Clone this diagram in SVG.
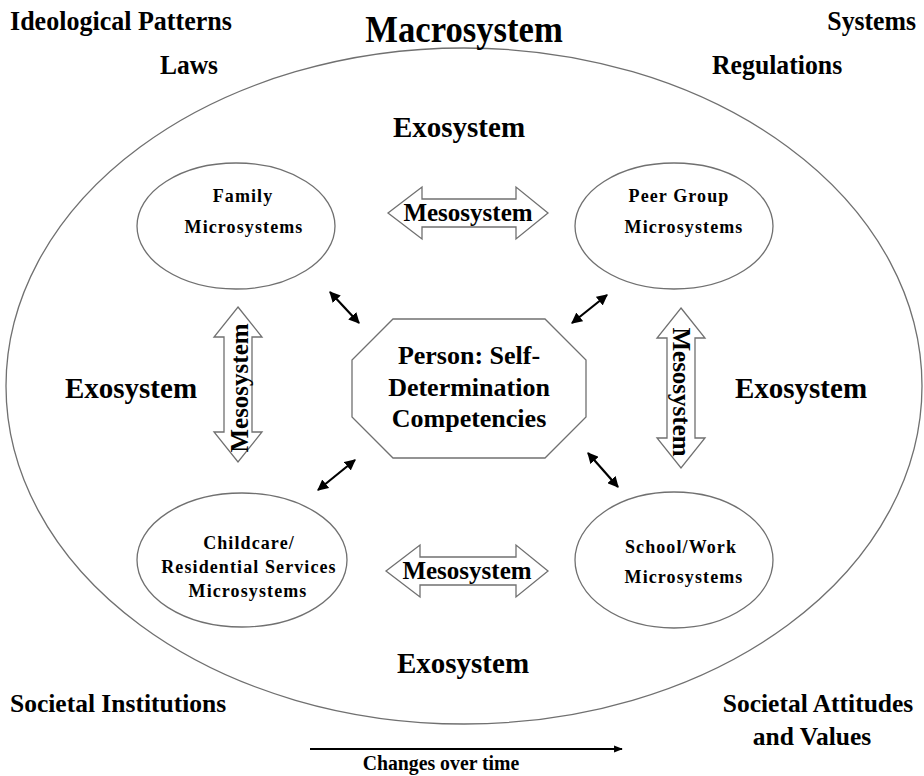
<svg xmlns="http://www.w3.org/2000/svg" width="924" height="776" viewBox="0 0 924 776">
  <style>
    text { font-family: "Liberation Serif", "Times New Roman", serif; font-weight: bold; fill: #000; }
    .outline { fill: #fff; stroke: #707070; stroke-width: 1.3; }
    .ring { fill: none; stroke: #707070; stroke-width: 1.3; }
    .micro { font-size: 18px; letter-spacing: 1.1px; text-anchor: middle; }
    .exo { font-size: 29px; text-anchor: middle; }
    .meso { font-size: 25px; text-anchor: middle; }
    .corner { font-size: 25.5px; }
    .tall { font-size: 28px; }
    .link { stroke: #000; stroke-width: 2.2; fill: none; marker-start: url(#tip); marker-end: url(#tip); }
  </style>
  <defs>
    <marker id="tip" viewBox="0 0 10 10" refX="9" refY="5" markerWidth="5" markerHeight="5" orient="auto-start-reverse" markerUnits="strokeWidth">
      <path d="M0,0 L10,5 L0,10 Z" fill="#000"/>
    </marker>
    <marker id="timeTip" viewBox="0 0 10 10" refX="9" refY="5" markerWidth="4" markerHeight="4" orient="auto" markerUnits="strokeWidth">
      <path d="M0,1 L10,5 L0,9 Z" fill="#000"/>
    </marker>
  </defs>

  <rect width="924" height="776" fill="#fff"/>

  <!-- outer macrosystem ring -->
  <g id="macrosystem">
    <ellipse class="ring" cx="464" cy="386" rx="458" ry="338"/>
    <text transform="translate(464,42) scale(0.9,1)" font-size="38.5" text-anchor="middle">Macrosystem</text>
    <text class="tall" transform="translate(10,30) scale(0.93,1)">Ideological Patterns</text>
    <text class="tall" transform="translate(160,74) scale(0.91,1)">Laws</text>
    <text class="tall" transform="translate(916,30) scale(0.92,1)" text-anchor="end">Systems</text>
    <text class="tall" transform="translate(712,74) scale(0.92,1)">Regulations</text>
    <text class="corner" x="10" y="712" font-size="24.5">Societal Institutions</text>
    <text class="corner" x="818" y="712" text-anchor="middle">Societal Attitudes</text>
    <text class="corner" x="812" y="745" text-anchor="middle">and Values</text>
  </g>

  <!-- exosystem labels -->
  <g id="exosystem">
    <text class="exo" x="459" y="137">Exosystem</text>
    <text class="exo" x="131" y="398">Exosystem</text>
    <text class="exo" x="801" y="398">Exosystem</text>
    <text class="exo" x="463" y="673">Exosystem</text>
  </g>

  <!-- microsystems -->
  <g id="family">
    <ellipse class="outline" cx="236" cy="226" rx="99" ry="63"/>
    <text class="micro" x="243" y="202">Family</text>
    <text class="micro" x="244" y="233">Microsystems</text>
  </g>
  <g id="peer-group">
    <ellipse class="outline" cx="674" cy="226" rx="99" ry="63"/>
    <text class="micro" x="679" y="202">Peer Group</text>
    <text class="micro" x="684" y="233">Microsystems</text>
  </g>
  <g id="childcare">
    <ellipse class="outline" cx="242" cy="560" rx="105" ry="67"/>
    <text class="micro" x="249" y="549" letter-spacing="0.8">Childcare/</text>
    <text class="micro" x="249" y="573" letter-spacing="0.5">Residential Services</text>
    <text class="micro" x="248" y="597">Microsystems</text>
  </g>
  <g id="school-work">
    <ellipse class="outline" cx="674" cy="560" rx="99" ry="68"/>
    <text class="micro" x="681" y="553">School/Work</text>
    <text class="micro" x="684" y="583">Microsystems</text>
  </g>

  <!-- person at the centre -->
  <g id="person">
    <polygon class="outline" points="393,319 545,319 586,360 586,417 545,458 393,458 352,417 352,360"/>
    <text x="469" y="364" font-size="26" text-anchor="middle">Person: Self-</text>
    <text x="469" y="396" font-size="26" text-anchor="middle">Determination</text>
    <text x="469" y="427" font-size="26" text-anchor="middle">Competencies</text>
  </g>

  <!-- mesosystem block arrows -->
  <g id="meso-top">
    <path class="outline" d="M388,213 L422,187 L422,199 L516,199 L516,187 L548,213 L516,239 L516,227 L422,227 L422,239 Z"/>
    <text class="meso" x="468" y="221">Mesosystem</text>
  </g>
  <g id="meso-bottom">
    <path class="outline" d="M386,571 L420,545 L420,557 L516,557 L516,545 L548,571 L516,597 L516,585 L420,585 L420,597 Z"/>
    <text class="meso" x="467" y="579">Mesosystem</text>
  </g>
  <g id="meso-left">
    <path class="outline" d="M238,307 L262,337 L252,337 L252,432 L262,432 L238,462 L214,432 L224,432 L224,337 L214,337 Z"/>
    <text class="meso" transform="translate(248,388) rotate(-90)">Mesosystem</text>
  </g>
  <g id="meso-right">
    <path class="outline" d="M681,308 L705,338 L695,338 L695,438 L705,438 L681,468 L657,438 L667,438 L667,338 L657,338 Z"/>
    <text class="meso" transform="translate(673,392) rotate(90)">Mesosystem</text>
  </g>

  <!-- links between the person and each microsystem -->
  <g id="connectors">
    <line class="link" x1="330" y1="292" x2="359" y2="323"/>
    <line class="link" x1="607" y1="295" x2="572" y2="323"/>
    <line class="link" x1="318" y1="490" x2="355" y2="460"/>
    <line class="link" x1="588" y1="453" x2="618" y2="487"/>
  </g>

  <!-- time axis -->
  <g id="time">
    <line x1="310" y1="749" x2="622" y2="749" stroke="#000" stroke-width="2.2" marker-end="url(#timeTip)"/>
    <text transform="translate(441,770) scale(0.92,1)" font-size="21.5" text-anchor="middle">Changes over time</text>
  </g>
</svg>
